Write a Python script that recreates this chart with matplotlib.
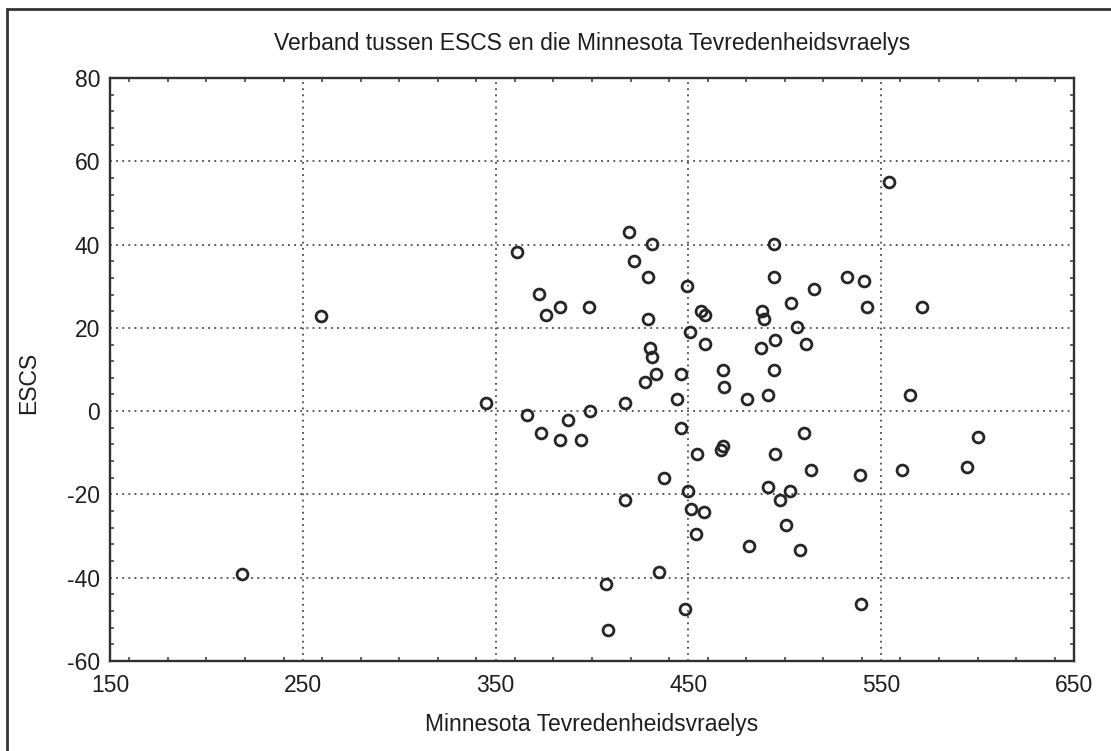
import matplotlib
matplotlib.use("Agg")
from matplotlib import pyplot as plt
from matplotlib.patches import Rectangle
from matplotlib.ticker import MultipleLocator

# Minnesota Tevredenheidsvraelys score per learner
msq = [218.6, 259.3, 344.9, 361.2, 366.1, 372.3, 373.4, 376.3, 383.2, 383.3,
       387.3, 394.2, 398.3, 399.2, 407.4, 408.5, 417.1, 417.2, 419.2, 421.9,
       429.1, 427.4, 429.1, 430.1, 431.2, 431.2, 433.2, 434.8, 437.5, 443.9,
       446.0, 446.4, 448.1, 449.1, 449.9, 450.9, 451.1, 454.0, 454.4, 456.7,
       458.8, 458.8, 457.9, 468.1, 468.4, 466.7, 467.9, 480.6, 481.6, 487.5,
       488.2, 489.2, 491.5, 491.5, 494.4, 494.4, 495.1, 494.2, 494.7, 497.5,
       500.6, 502.5, 503.0, 506.1, 507.7, 511.0, 510.2, 515.1, 513.5, 532.1,
       540.9, 538.9, 542.4, 539.6, 553.8, 561.0, 564.9, 571.4, 594.4, 600.1]

# ESCS value per learner
escs = [-39.2, 22.8, 1.9, 38.1, -1.0, 28.1, -5.3, 23.0, 25.1, -7.0,
        -2.1, -7.0, 25.1, 0.0, -41.5, -52.5, 1.9, -21.3, 43.1, 36.1,
        32.1, 7.1, 22.1, 15.1, 13.0, 40.1, 9.0, -38.6, -16.1, 3.0,
        9.0, -4.1, -47.4, 30.1, -19.1, 19.0, -23.4, -29.4, -10.3, 24.1,
        23.1, 16.1, -24.3, 9.9, 5.9, -9.3, -8.3, 3.0, -32.4, 15.1,
        24.1, 22.1, 3.9, -18.2, 40.1, 32.1, 17.1, 9.9, -10.3, -21.3,
        -27.3, -19.2, 26.0, 20.2, -33.3, 16.1, -5.2, 29.3, -14.2, 32.1,
        31.2, -15.3, 25.1, -46.4, 55.1, -14.2, 3.9, 25.1, -13.3, -6.3]

x_ticks = [150, 250, 350, 450, 550, 650]
y_ticks = [-60, -40, -20, 0, 20, 40, 60, 80]

plt.rcParams['font.family'] = ['Liberation Sans', 'DejaVu Sans']
plt.rcParams['axes.unicode_minus'] = False
ink = '#1e1e1e'
fs = 16.5

fig = plt.figure(figsize=(11.11, 7.51), dpi=100)
W, H = 1111, 751
ax = fig.add_axes([110 / W, 1 - 661 / H, (1074 - 110) / W, (661 - 78) / H])

ax.plot(msq, escs, 'o', markersize=7.8, markerfacecolor='none',
        markeredgecolor='#262626', markeredgewidth=2.0, clip_on=False)

ax.set_xlim(150, 650)
ax.set_ylim(-60, 80)
ax.set_xticks(x_ticks)
ax.set_yticks(y_ticks)
ax.xaxis.set_minor_locator(MultipleLocator(20))
ax.yaxis.set_minor_locator(MultipleLocator(4))
ax.tick_params(which='major', length=0, labelsize=fs, labelcolor=ink)
ax.tick_params(axis='x', which='major', pad=9.4)
ax.tick_params(axis='y', which='major', pad=7)
ax.tick_params(which='minor', direction='in', length=3, width=1.2,
               color='#444444', top=True, right=True)
ax.grid(True, which='major', linestyle=(0, (1, 2.4)), color='#4a4a4a', linewidth=1.3)
for sp in ax.spines.values():
    sp.set_linewidth(1.7)
    sp.set_color('#303030')

ax.set_title('Verband tussen ESCS en die Minnesota Tevredenheidsvraelys',
             fontsize=fs, color=ink, pad=20)
ax.set_xlabel('Minnesota Tevredenheidsvraelys', fontsize=fs, color=ink)
ax.xaxis.set_label_coords(0.5, -0.089)
ax.set_ylabel('ESCS', fontsize=fs, color=ink)
ax.yaxis.set_label_coords(-0.072, 0.477)

# outer frame (left and top edges visible, rest cut off by the scan)
fig.add_artist(Rectangle((7 / W, -0.1), 1.2, 1.1 - 9 / H, transform=fig.transFigure,
                         fill=False, edgecolor='#333333', linewidth=2))

plt.savefig("out.png", dpi=100)
